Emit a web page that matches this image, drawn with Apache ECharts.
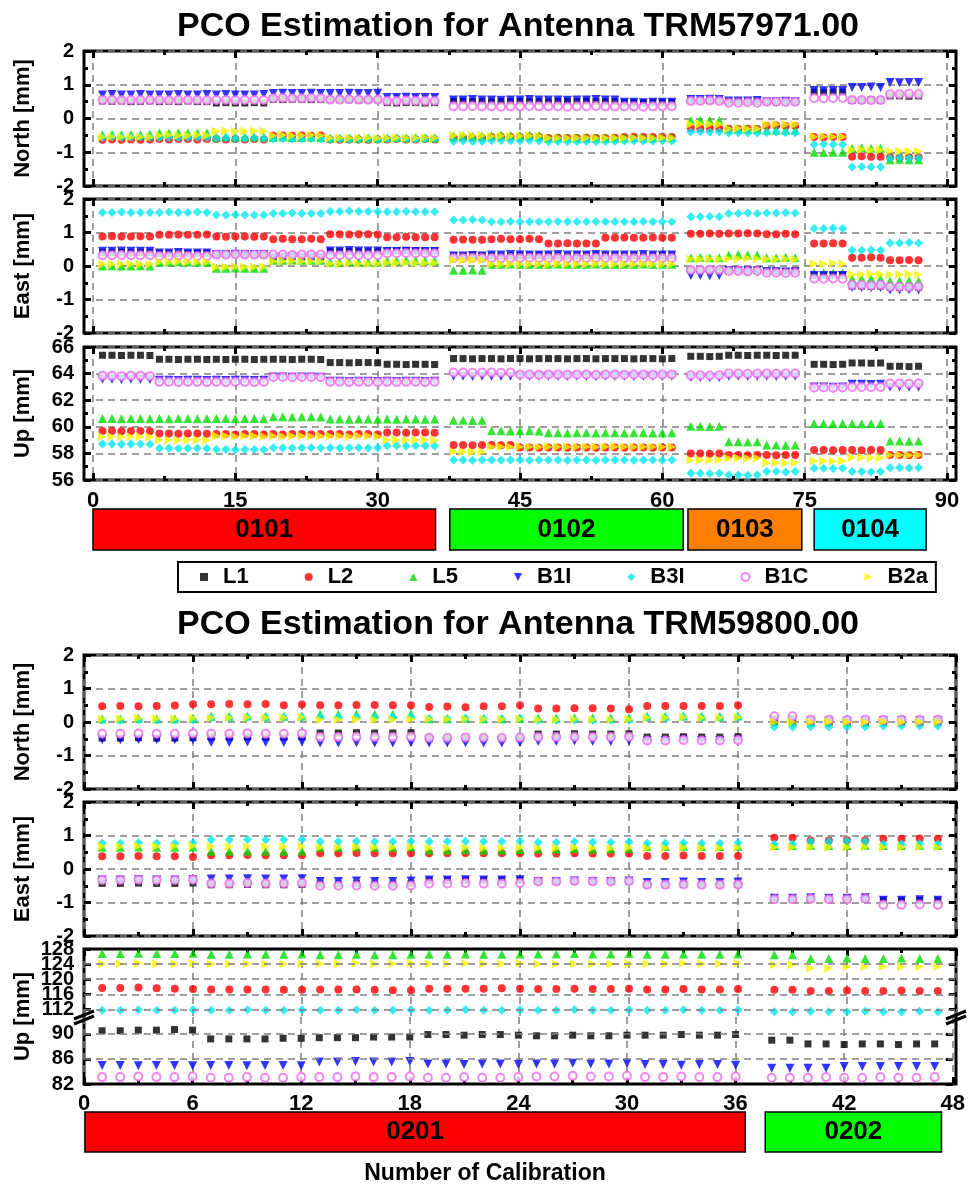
<!DOCTYPE html>
<html>
<head>
<meta charset="utf-8">
<script src="https://cdn.jsdelivr.net/npm/echarts@6/dist/echarts.min.js"></script>
<style>
  html, body { margin: 0; padding: 0; background: #fff; }
  #chart { width: 968px; height: 1200px; }
</style>
</head>
<body>
<div id="chart"></div>
<script>
// ---- series definitions ----
const seriesNames = ['L1', 'L2', 'L5', 'B1I', 'B3I', 'B1C', 'B2a'];

// ---- antenna TRM57971.00 (calibrations 0101..0104) ----
const calibTop = [1,2,3,4,5,6,7,8,9,10,11,12,13,14,15,16,17,18,19,20,21,22,23,24,25,26,27,28,29,30,31,32,33,34,35,36,
  38,39,40,41,42,43,44,45,46,47,48,49,50,51,52,53,54,55,56,57,58,59,60,61,
  63,64,65,66,67,68,69,70,71,72,73,74,
  76,77,78,79,80,81,82,83,84,85,86,87];

const northL1Top = [0.52,0.51,0.52,0.50,0.51,0.52, 0.50,0.51,0.50,0.52,0.50,0.50, 0.46,0.47,0.46,0.46,0.47,0.46, 0.57,0.56,0.57,0.57,0.56,0.57, 0.56,0.57,0.56,0.55,0.56,0.56, 0.47,0.46,0.47,0.47,0.46,0.47,
  0.50,0.51,0.50,0.50, 0.49,0.50,0.50,0.51,0.50,0.50, 0.49,0.50,0.50,0.50,0.51,0.50,0.50,0.50, 0.47,0.47,0.46,0.47,0.47,0.47,
  0.53,0.53,0.54,0.53, 0.50,0.50,0.51,0.50, 0.50,0.49,0.50,0.50,
  0.78,0.77,0.78,0.78, 0.54,0.54,0.55,0.54, 0.67,0.67,0.66,0.67];
const northL2Top = [-0.63,-0.62,-0.63,-0.62,-0.63,-0.62, -0.61,-0.62,-0.61,-0.61,-0.62,-0.61, -0.61,-0.62,-0.61,-0.62,-0.61,-0.62, -0.51,-0.50,-0.51,-0.50,-0.51,-0.50, -0.62,-0.63,-0.62,-0.62,-0.63,-0.62, -0.62,-0.61,-0.62,-0.62,-0.61,-0.62,
  -0.57,-0.56,-0.57,-0.57, -0.55,-0.54,-0.55,-0.55,-0.54,-0.55, -0.58,-0.57,-0.58,-0.58,-0.57,-0.58,-0.58,-0.57, -0.55,-0.54,-0.55,-0.55,-0.54,-0.55,
  -0.28,-0.29,-0.28,-0.29, -0.30,-0.31,-0.30,-0.31, -0.22,-0.21,-0.22,-0.22,
  -0.55,-0.56,-0.55,-0.55, -1.13,-1.12,-1.13,-1.13, -1.15,-1.16,-1.15,-1.15];
const northL5Top = [-0.48,-0.47,-0.48,-0.47,-0.48,-0.47, -0.42,-0.43,-0.42,-0.42,-0.43,-0.42, -0.55,-0.54,-0.55,-0.55,-0.54,-0.55, -0.56,-0.55,-0.56,-0.56,-0.55,-0.56, -0.58,-0.57,-0.58,-0.58,-0.57,-0.58, -0.57,-0.56,-0.57,-0.57,-0.56,-0.57,
  -0.52,-0.51,-0.52,-0.52, -0.50,-0.49,-0.50,-0.50,-0.49,-0.50, -0.58,-0.57,-0.58,-0.58,-0.57,-0.58,-0.58,-0.57, -0.57,-0.56,-0.57,-0.57,-0.56,-0.57,
  -0.06,-0.05,-0.06,-0.06, -0.32,-0.31,-0.32,-0.32, -0.35,-0.34,-0.35,-0.35,
  -1.00,-1.01,-1.00,-1.00, -0.88,-0.87,-0.88,-0.88, -1.22,-1.21,-1.22,-1.22];
const northB1ITop = [0.70,0.71,0.70,0.70,0.71,0.70, 0.70,0.70,0.71,0.70,0.70,0.71, 0.70,0.71,0.70,0.70,0.70,0.71, 0.74,0.75,0.74,0.74,0.75,0.74, 0.74,0.74,0.75,0.74,0.74,0.75, 0.62,0.62,0.63,0.62,0.62,0.62,
  0.55,0.55,0.56,0.55, 0.55,0.54,0.55,0.55,0.56,0.55, 0.55,0.55,0.54,0.55,0.55,0.56,0.55,0.55, 0.48,0.48,0.47,0.48,0.48,0.48,
  0.56,0.56,0.57,0.56, 0.52,0.52,0.52,0.53, 0.50,0.50,0.51,0.50,
  0.83,0.82,0.83,0.83, 0.92,0.92,0.93,0.92, 1.07,1.06,1.07,1.07];
const northB3ITop = [-0.56,-0.55,-0.56,-0.56,-0.55,-0.56, -0.57,-0.56,-0.57,-0.57,-0.56,-0.57, -0.59,-0.58,-0.59,-0.59,-0.58,-0.59, -0.61,-0.60,-0.61,-0.61,-0.60,-0.61, -0.62,-0.61,-0.62,-0.62,-0.61,-0.62, -0.61,-0.60,-0.61,-0.61,-0.60,-0.61,
  -0.68,-0.67,-0.68,-0.68, -0.66,-0.65,-0.66,-0.66,-0.65,-0.66, -0.69,-0.68,-0.69,-0.69,-0.68,-0.69,-0.69,-0.68, -0.67,-0.66,-0.67,-0.67,-0.66,-0.67,
  -0.40,-0.39,-0.40,-0.40, -0.43,-0.42,-0.43,-0.43, -0.42,-0.41,-0.42,-0.42,
  -0.77,-0.76,-0.77,-0.77, -1.44,-1.43,-1.44,-1.44, -1.17,-1.16,-1.17,-1.17];
const northB1CTop = [0.55,0.55,0.54,0.55,0.55,0.55, 0.55,0.54,0.55,0.55,0.55,0.54, 0.55,0.55,0.54,0.55,0.55,0.55, 0.60,0.61,0.60,0.60,0.61,0.60, 0.56,0.56,0.57,0.56,0.56,0.56, 0.52,0.52,0.53,0.52,0.52,0.52,
  0.36,0.36,0.37,0.36, 0.36,0.35,0.36,0.36,0.37,0.36, 0.36,0.36,0.35,0.36,0.36,0.37,0.36,0.36, 0.36,0.36,0.35,0.36,0.36,0.36,
  0.52,0.52,0.53,0.52, 0.47,0.47,0.48,0.47, 0.50,0.50,0.49,0.50,
  0.61,0.60,0.61,0.61, 0.55,0.55,0.54,0.55, 0.72,0.72,0.73,0.72];
const northB2aTop = [-0.55,-0.54,-0.55,-0.55,-0.54,-0.55, -0.50,-0.49,-0.50,-0.50,-0.49,-0.50, -0.38,-0.37,-0.38,-0.38,-0.37,-0.38, -0.50,-0.49,-0.50,-0.50,-0.49,-0.50, -0.58,-0.57,-0.58,-0.58,-0.57,-0.58, -0.58,-0.57,-0.58,-0.58,-0.57,-0.58,
  -0.50,-0.49,-0.50,-0.50, -0.52,-0.51,-0.52,-0.52,-0.51,-0.52, -0.58,-0.57,-0.58,-0.58,-0.57,-0.58,-0.58,-0.57, -0.58,-0.57,-0.58,-0.58,-0.57,-0.58,
  -0.17,-0.16,-0.17,-0.17, -0.30,-0.29,-0.30,-0.30, -0.18,-0.17,-0.18,-0.18,
  -0.54,-0.53,-0.54,-0.54, -0.93,-0.92,-0.93,-0.93, -0.97,-0.96,-0.97,-0.97];

const eastL1Top = [0.40,0.40,0.41,0.40,0.40,0.40, 0.37,0.37,0.36,0.37,0.37,0.37, 0.36,0.36,0.37,0.36,0.36,0.36, 0.27,0.27,0.28,0.27,0.27,0.27, 0.42,0.42,0.43,0.42,0.42,0.42, 0.45,0.45,0.46,0.45,0.45,0.45,
  0.30,0.30,0.31,0.30, 0.30,0.29,0.30,0.30,0.31,0.30, 0.30,0.30,0.29,0.30,0.30,0.31,0.30,0.30, 0.30,0.30,0.29,0.30,0.30,0.30,
  -0.12,-0.12,-0.11,-0.12, -0.12,-0.13,-0.12,-0.12, -0.15,-0.15,-0.16,-0.15,
  -0.28,-0.28,-0.27,-0.28, -0.60,-0.60,-0.61,-0.60, -0.64,-0.64,-0.63,-0.64];
const eastL2Top = [0.88,0.89,0.88,0.88,0.89,0.88, 0.93,0.93,0.94,0.93,0.93,0.94, 0.88,0.87,0.88,0.88,0.87,0.88, 0.80,0.81,0.80,0.80,0.81,0.80, 0.95,0.95,0.94,0.95,0.95,0.94, 0.86,0.86,0.87,0.86,0.86,0.86,
  0.78,0.79,0.78,0.78, 0.80,0.81,0.80,0.80,0.81,0.80, 0.67,0.67,0.68,0.67,0.67,0.67, 0.84,0.84,0.85,0.84,0.84,0.85,0.84,0.84,
  0.96,0.96,0.97,0.96, 0.97,0.97,0.98,0.97, 0.95,0.95,0.96,0.95,
  0.67,0.67,0.68,0.67, 0.25,0.25,0.26,0.25, 0.17,0.17,0.18,0.17];
const eastL5Top = [0.00,0.01,0.00,0.00,0.01,0.00, 0.12,0.12,0.13,0.12,0.12,0.12, -0.07,-0.07,-0.06,-0.07,-0.07,-0.07, 0.17,0.17,0.18,0.17,0.17,0.17, 0.12,0.12,0.13,0.12,0.12,0.12, 0.16,0.16,0.17,0.16,0.16,0.16,
  -0.13,-0.13,-0.12,-0.13, 0.05,0.05,0.06,0.05,0.05,0.05, 0.05,0.06,0.05,0.05,0.05,0.06,0.05,0.05, 0.05,0.05,0.06,0.05,0.05,0.05,
  0.25,0.26,0.25,0.25, 0.33,0.34,0.33,0.33, 0.25,0.25,0.26,0.25,
  -0.20,-0.20,-0.21,-0.20, -0.38,-0.38,-0.37,-0.38, -0.45,-0.45,-0.44,-0.45];
const eastB1ITop = [0.44,0.44,0.45,0.44,0.44,0.44, 0.39,0.39,0.40,0.39,0.39,0.39, 0.34,0.34,0.35,0.34,0.34,0.34, 0.27,0.27,0.28,0.27,0.27,0.27, 0.45,0.45,0.46,0.45,0.45,0.45, 0.43,0.43,0.44,0.43,0.43,0.43,
  0.30,0.30,0.31,0.30, 0.33,0.33,0.34,0.33,0.33,0.33, 0.33,0.34,0.33,0.33,0.33,0.34,0.33,0.33, 0.33,0.33,0.34,0.33,0.33,0.33,
  -0.28,-0.28,-0.29,-0.28, -0.14,-0.14,-0.15,-0.14, -0.17,-0.17,-0.18,-0.17,
  -0.28,-0.28,-0.29,-0.28, -0.64,-0.64,-0.65,-0.64, -0.72,-0.72,-0.71,-0.72];
const eastB3ITop = [1.60,1.60,1.61,1.60,1.60,1.60, 1.60,1.61,1.60,1.60,1.61,1.60, 1.52,1.52,1.53,1.52,1.52,1.52, 1.57,1.57,1.58,1.57,1.57,1.57, 1.63,1.63,1.64,1.63,1.63,1.63, 1.62,1.62,1.63,1.62,1.62,1.62,
  1.37,1.37,1.38,1.37, 1.32,1.32,1.33,1.32,1.32,1.32, 1.32,1.33,1.32,1.32,1.32,1.33,1.32,1.32, 1.32,1.32,1.33,1.32,1.32,1.32,
  1.47,1.47,1.48,1.47, 1.57,1.57,1.58,1.57, 1.58,1.58,1.59,1.58,
  1.12,1.12,1.13,1.12, 0.47,0.47,0.48,0.47, 0.69,0.69,0.70,0.69];
const eastB1CTop = [0.32,0.32,0.33,0.32,0.32,0.32, 0.30,0.30,0.31,0.30,0.30,0.30, 0.34,0.34,0.35,0.34,0.34,0.34, 0.34,0.34,0.33,0.34,0.34,0.34, 0.32,0.32,0.33,0.32,0.32,0.32, 0.38,0.38,0.39,0.38,0.38,0.38,
  0.24,0.24,0.25,0.24, 0.24,0.23,0.24,0.24,0.25,0.24, 0.24,0.24,0.23,0.24,0.24,0.25,0.24,0.24, 0.24,0.24,0.23,0.24,0.24,0.24,
  -0.12,-0.12,-0.11,-0.12, -0.15,-0.15,-0.16,-0.15, -0.20,-0.20,-0.21,-0.20,
  -0.38,-0.38,-0.37,-0.38, -0.57,-0.57,-0.58,-0.57, -0.62,-0.62,-0.63,-0.62];
const eastB2aTop = [0.05,0.05,0.06,0.05,0.05,0.05, 0.12,0.12,0.13,0.12,0.12,0.12, -0.03,-0.03,-0.02,-0.03,-0.03,-0.03, 0.14,0.14,0.15,0.14,0.14,0.14, 0.07,0.07,0.08,0.07,0.07,0.07, 0.09,0.09,0.10,0.09,0.09,0.09,
  0.17,0.17,0.18,0.17, 0.05,0.05,0.06,0.05,0.05,0.05, 0.05,0.06,0.05,0.05,0.05,0.06,0.05,0.05, 0.05,0.05,0.06,0.05,0.05,0.05,
  0.20,0.20,0.21,0.20, 0.22,0.22,0.23,0.22, 0.20,0.20,0.21,0.20,
  0.07,0.07,0.08,0.07, -0.25,-0.25,-0.24,-0.25, -0.25,-0.25,-0.24,-0.25];

const upL1Top = [65.38,65.38,65.36,65.38,65.38,65.36, 65.08,65.08,65.06,65.08,65.08,65.06, 65.08,65.06,65.08,65.08,65.06,65.08, 65.08,65.08,65.06,65.08,65.08,65.06, 64.83,64.83,64.81,64.83,64.83,64.81, 64.70,64.70,64.68,64.70,64.70,64.68,
  65.13,65.13,65.11,65.13, 65.13,65.11,65.13,65.13,65.11,65.13, 65.13,65.13,65.11,65.13,65.13,65.11,65.13,65.13, 65.13,65.11,65.13,65.13,65.11,65.13,
  65.30,65.30,65.28,65.30, 65.38,65.38,65.36,65.38, 65.38,65.36,65.38,65.38,
  64.70,64.70,64.68,64.70, 64.80,64.80,64.78,64.80, 64.55,64.55,64.53,64.55];
const upL2Top = [59.68,59.68,59.66,59.68,59.68,59.66, 59.50,59.50,59.48,59.50,59.50,59.48, 59.45,59.45,59.43,59.45,59.45,59.43, 59.45,59.43,59.45,59.45,59.43,59.45, 59.45,59.45,59.43,59.45,59.45,59.43, 59.58,59.58,59.56,59.58,59.58,59.56,
  58.63,58.63,58.61,58.63,58.63,58.61,58.63, 58.45,58.45,58.43,58.45,58.45,58.43,58.45,58.45,58.43,58.45,58.45,58.43,58.45,58.45,58.43,58.45,58.45,
  58.00,58.00,57.98,58.00, 57.88,57.88,57.86,57.88, 57.88,57.86,57.88,57.88,
  58.25,58.25,58.23,58.25, 58.25,58.23,58.25,58.25, 57.88,57.88,57.86,57.88];
const upL5Top = [60.63,60.63,60.61,60.63,60.63,60.61, 60.63,60.61,60.63,60.63,60.61,60.63, 60.63,60.63,60.61,60.63,60.63,60.61, 60.75,60.75,60.73,60.75,60.75,60.73, 60.58,60.58,60.56,60.58,60.58,60.56, 60.58,60.56,60.58,60.58,60.56,60.58,
  60.50,60.50,60.48,60.50, 59.70,59.70,59.68,59.70,59.70,59.68, 59.55,59.55,59.53,59.55,59.55,59.53,59.55,59.55,59.53,59.55,59.55,59.53,59.55,59.55,
  60.05,60.05,60.03,60.05, 58.88,58.88,58.86,58.88, 58.63,58.63,58.61,58.63,
  60.25,60.25,60.23,60.25, 60.25,60.23,60.25,60.25, 58.93,58.93,58.91,58.93];
const upB1ITop = [63.58,63.58,63.56,63.58,63.58,63.56, 63.50,63.50,63.48,63.50,63.50,63.48, 63.50,63.48,63.50,63.50,63.48,63.50, 63.75,63.75,63.73,63.75,63.75,63.73, 63.43,63.43,63.41,63.43,63.43,63.41, 63.43,63.41,63.43,63.43,63.41,63.43,
  63.80,63.80,63.78,63.80, 63.80,63.78,63.80,63.80,63.78,63.80, 63.80,63.80,63.78,63.80,63.80,63.78,63.80,63.80, 63.80,63.78,63.80,63.80,63.78,63.80,
  63.70,63.70,63.68,63.70, 63.80,63.80,63.78,63.80, 63.80,63.78,63.80,63.80,
  63.00,63.00,62.98,63.00, 63.20,63.20,63.18,63.20, 63.00,63.00,62.98,63.00];
const upB3ITop = [58.70,58.70,58.68,58.70,58.70,58.68, 58.38,58.38,58.36,58.38,58.38,58.36, 58.30,58.30,58.28,58.30,58.30,58.28, 58.43,58.43,58.41,58.43,58.43,58.41, 58.43,58.41,58.43,58.43,58.41,58.43, 58.58,58.58,58.56,58.58,58.58,58.56,
  57.50,57.50,57.48,57.50, 57.50,57.48,57.50,57.50,57.48,57.50, 57.50,57.50,57.48,57.50,57.50,57.48,57.50,57.50, 57.50,57.48,57.50,57.50,57.48,57.50,
  56.50,56.50,56.48,56.50, 56.38,56.38,56.36,56.38, 56.63,56.63,56.61,56.63,
  56.88,56.88,56.86,56.88, 56.63,56.63,56.61,56.63, 56.93,56.93,56.91,56.93];
const upB1CTop = [63.83,63.83,63.81,63.83,63.83,63.81, 63.38,63.38,63.36,63.38,63.38,63.36, 63.38,63.36,63.38,63.38,63.36,63.38, 63.75,63.75,63.73,63.75,63.75,63.73, 63.38,63.38,63.36,63.38,63.38,63.36, 63.38,63.36,63.38,63.38,63.36,63.38,
  64.08,64.08,64.06,64.08,64.08,64.06,64.08, 63.93,63.93,63.91,63.93,63.93,63.91,63.93,63.93,63.91,63.93,63.93,63.91,63.93,63.93,63.91,63.93,63.93,
  63.88,63.88,63.86,63.88, 64.00,64.00,63.98,64.00, 64.00,63.98,64.00,64.00,
  62.95,62.95,62.93,62.95, 63.00,63.00,62.98,63.00, 63.25,63.25,63.23,63.25];
const upB2aTop = [59.25,59.25,59.23,59.25,59.25,59.23, 59.00,59.00,58.98,59.00,59.00,58.98, 59.30,59.30,59.28,59.30,59.30,59.28, 59.30,59.28,59.30,59.30,59.28,59.30, 59.30,59.30,59.28,59.30,59.30,59.28, 59.00,59.00,58.98,59.00,59.00,58.98,
  58.13,58.13,58.11,58.13, 58.50,58.50,58.48,58.50,58.50,58.48, 58.50,58.50,58.48,58.50,58.50,58.48,58.50,58.50, 58.50,58.48,58.50,58.50,58.48,58.50,
  57.50,57.50,57.48,57.50, 57.63,57.63,57.61,57.63, 57.30,57.30,57.28,57.30,
  57.43,57.43,57.41,57.43, 57.70,57.70,57.68,57.70, 57.88,57.88,57.86,57.88];

const groupNamesTop = ['0101', '0102', '0103', '0104'];
const groupStartTop = [0, 37.6, 62.7, 76.0];
const groupEndTop = [36.1, 62.2, 74.7, 87.8];

// ---- antenna TRM59800.00 (calibrations 0201..0202) ----
const calibBottom = [1,2,3,4,5,6,7,8,9,10,11,12,13,14,15,16,17,18,19,20,21,22,23,24,25,26,27,28,29,30,31,32,33,34,35,36,
  38,39,40,41,42,43,44,45,46,47];

const northL1Bot = [-0.48,-0.48,-0.47,-0.48,-0.48,-0.47, -0.45,-0.45,-0.44,-0.45,-0.45,-0.44, -0.33,-0.33,-0.32,-0.33,-0.33,-0.32, -0.50,-0.50,-0.49,-0.50,-0.50,-0.49, -0.36,-0.36,-0.35,-0.36,-0.36,-0.35, -0.45,-0.45,-0.44,-0.45,-0.45,-0.44,
  0.10,0.10, 0.00,0.01,0.00,0.00,0.01,0.00,0.00,0.01];
const northL2Bot = [0.47,0.48,0.47,0.48,0.49,0.53, 0.53,0.54,0.53,0.54,0.50,0.52, 0.50,0.50,0.51,0.51,0.50,0.50, 0.45,0.46,0.44,0.47,0.47,0.50, 0.40,0.40,0.41,0.41,0.40,0.38, 0.48,0.48,0.48,0.48,0.48,0.50,
  -0.01,-0.01,-0.02,-0.02,-0.01,-0.02,-0.01,-0.01,-0.02,-0.01];
const northL5Bot = [0.10,0.10,0.11,0.10,0.10,0.11, 0.17,0.17,0.18,0.17,0.17,0.18, 0.23,0.23,0.24,0.23,0.23,0.24, 0.10,0.10,0.11,0.10,0.10,0.11, 0.12,0.12,0.13,0.12,0.12,0.13, 0.17,0.17,0.18,0.17,0.17,0.18,
  0.02,0.02, 0.00,0.00,0.01,0.00, 0.07,0.07,0.08,0.07];
const northB1IBot = [-0.53,-0.53,-0.52,-0.53,-0.53,-0.52, -0.61,-0.61,-0.60,-0.61,-0.61,-0.60, -0.63,-0.63,-0.62,-0.63,-0.63,-0.62, -0.63,-0.63,-0.62,-0.63,-0.63,-0.62, -0.58,-0.58,-0.57,-0.58,-0.58,-0.57, -0.55,-0.55,-0.54,-0.55,-0.55,-0.54,
  0.02,0.02,0.02,0.02,0.02,0.02,0.04,0.04,0.04,0.04];
const northB3IBot = [0.05,0.05,0.06,0.05,0.05,0.06, 0.13,0.13,0.14,0.13,0.13,0.14, 0.15,0.15,0.16,0.15,0.15,0.16, 0.10,0.10,0.11,0.10,0.10,0.11, 0.05,0.05,0.06,0.05,0.05,0.06, 0.13,0.13,0.14,0.13,0.13,0.14,
  -0.15,-0.15,-0.14,-0.15,-0.15,-0.14,-0.12,-0.12,-0.12,-0.12];
const northB1CBot = [-0.35,-0.35,-0.34,-0.35,-0.35,-0.34, -0.35,-0.35,-0.34,-0.35,-0.35,-0.34, -0.45,-0.45,-0.44,-0.45,-0.45,-0.44, -0.47,-0.47,-0.46,-0.47,-0.47,-0.46, -0.45,-0.45,-0.44,-0.45,-0.45,-0.44, -0.55,-0.55,-0.54,-0.55,-0.55,-0.54,
  0.17,0.17, 0.07,0.07,0.06,0.07,0.07,0.07,0.06,0.07];
const northB2aBot = [0.10,0.10,0.11,0.10,0.10,0.11, 0.13,0.13,0.14,0.13,0.13,0.14, 0.07,0.07,0.08,0.07,0.07,0.08, 0.08,0.08,0.09,0.08,0.08,0.09, 0.07,0.07,0.08,0.07,0.07,0.08, 0.13,0.13,0.14,0.13,0.13,0.14,
  0.00,0.00,0.00,0.01,0.00,0.00,0.01,0.00,0.00,0.01];

const eastL1Bot = [-0.43,-0.43,-0.42,-0.43,-0.43,-0.42, -0.47,-0.47,-0.46,-0.47,-0.47,-0.46, -0.45,-0.45,-0.44,-0.45,-0.45,-0.44, -0.35,-0.35,-0.34,-0.35,-0.35,-0.34, -0.37,-0.37,-0.36,-0.37,-0.37,-0.36, -0.47,-0.47,-0.46,-0.47,-0.47,-0.46,
  -0.90,-0.90,-0.89,-0.90,-0.90,-0.89, -0.95,-0.95,-0.94,-0.95];
const eastL2Bot = [0.38,0.38,0.39,0.38,0.38,0.36, 0.41,0.41,0.42,0.41,0.41,0.41, 0.47,0.47,0.48,0.47,0.47,0.47, 0.47,0.47,0.48,0.47,0.47,0.47, 0.46,0.46,0.47,0.46,0.46,0.46, 0.39,0.39,0.40,0.39,0.39,0.39,
  0.93,0.93, 0.85,0.85,0.86,0.85, 0.90,0.90,0.91,0.90];
const eastL5Bot = [0.65,0.65,0.66,0.65,0.65,0.66, 0.53,0.53,0.54,0.53,0.53,0.54, 0.65,0.65,0.66,0.65,0.65,0.66, 0.57,0.57,0.58,0.57,0.57,0.58, 0.60,0.60,0.61,0.60,0.60,0.61, 0.67,0.67,0.68,0.67,0.67,0.68,
  0.70,0.70,0.71,0.70,0.70,0.71,0.70,0.70,0.71,0.70];
const eastB1IBot = [-0.33,-0.33,-0.32,-0.33,-0.33,-0.32, -0.30,-0.30,-0.29,-0.30,-0.30,-0.29, -0.37,-0.37,-0.36,-0.37,-0.37,-0.36, -0.33,-0.33,-0.32,-0.33,-0.33,-0.32, -0.37,-0.37,-0.36,-0.37,-0.37,-0.36, -0.40,-0.40,-0.39,-0.40,-0.40,-0.39,
  -0.87,-0.87,-0.86,-0.87,-0.87,-0.86, -0.93,-0.93,-0.92,-0.93];
const eastB3IBot = [0.77,0.77,0.78,0.77,0.77,0.78, 0.87,0.87,0.88,0.87,0.87,0.88, 0.82,0.82,0.83,0.82,0.82,0.83, 0.82,0.82,0.83,0.82,0.82,0.83, 0.80,0.80,0.81,0.80,0.80,0.81, 0.77,0.77,0.78,0.77,0.77,0.78,
  0.75,0.75, 0.83,0.83,0.84,0.83, 0.75,0.75,0.76,0.75];
const eastB1CBot = [-0.33,-0.33,-0.32,-0.33,-0.33,-0.32, -0.43,-0.43,-0.42,-0.43,-0.43,-0.42, -0.50,-0.50,-0.49,-0.50,-0.50,-0.49, -0.43,-0.43,-0.42,-0.43,-0.43,-0.42, -0.37,-0.37,-0.36,-0.37,-0.37,-0.36, -0.47,-0.47,-0.46,-0.47,-0.47,-0.46,
  -0.90,-0.90,-0.89,-0.90,-0.90,-0.89, -1.07,-1.07,-1.06,-1.07];
const eastB2aBot = [0.68,0.68,0.69,0.68,0.68,0.69, 0.67,0.67,0.68,0.67,0.67,0.68, 0.65,0.65,0.66,0.65,0.65,0.66, 0.63,0.63,0.64,0.63,0.63,0.64, 0.63,0.63,0.64,0.63,0.63,0.64, 0.63,0.63,0.64,0.63,0.63,0.64,
  0.65,0.65,0.66,0.65,0.65,0.66,0.65,0.65,0.66,0.65];

const upL1Bot = [90.5,90.5,90.6,90.6,90.7,90.6, 89.2,89.2,89.2,89.2,89.3,89.3, 89.4,89.4,89.4,89.5,89.5,89.5, 89.9,89.9,89.8,89.9,89.9,89.8, 89.7,89.7,89.8,89.7,89.7,89.8, 89.8,89.8,89.9,89.8,89.8,89.9,
  89.0,89.0, 88.4,88.4,88.3,88.4,88.4,88.3,88.4,88.4];
const upL2Bot = [117.7,117.7,117.8,117.6,117.5,117.4, 117.3,117.3,117.3,117.3,117.2,117.2, 117.3,117.3,117.3,117.2,117.1,117.1, 117.5,117.5,117.5,117.5,117.6,117.5, 117.4,117.4,117.5,117.4,117.4,117.5, 117.3,117.3,117.4,117.3,117.3,117.4,
  117.2,117.2, 116.9,116.9,117.0,116.9,116.9,117.0,116.9,116.9];
const upL5Bot = [126.8,126.8,126.9,126.8,126.8,126.9, 126.6,126.6,126.7,126.6,126.6,126.7, 126.5,126.5,126.6,126.5,126.5,126.6, 126.6,126.6,126.7,126.6,126.6,126.7, 126.7,126.7,126.8,126.7,126.7,126.8, 126.6,126.6,126.7,126.6,126.6,126.7,
  126.5,126.5, 125.5,125.5,125.6,125.5,125.5,125.6,125.5,125.5];
const upB1IBot = [84.95,84.95,84.9,84.95,84.95,84.9, 84.95,84.95,84.9,84.95,84.95,84.9, 85.5,85.5,85.6,85.5,85.5,85.6, 85.2,85.2,85.1,85.2,85.2,85.1, 85.2,85.2,85.3,85.2,85.2,85.3, 85.1,85.1,85.0,85.1,85.1,85.0,
  84.5,84.5,84.5,84.5, 84.8,84.8,84.8,84.8,84.8,84.8];
const upB3IBot = [111.8,111.8,111.9,111.8,111.8,111.9, 111.8,111.8,111.9,111.8,111.8,111.9, 111.8,111.8,111.9,111.8,111.8,111.9, 111.8,111.8,111.9,111.8,111.8,111.9, 111.8,111.8,111.9,111.8,111.8,111.9, 111.8,111.8,111.9,111.8,111.8,111.9,
  111.4,111.4,111.5,111.4,111.4,111.5,111.4,111.4,111.5,111.4];
const upB1CBot = [83.1,83.1,83.2,83.1,83.1,83.2, 83.0,83.0,83.1,83.0,83.0,83.1, 83.1,83.1,83.2,83.1,83.1,83.2, 83.0,83.0,83.1,83.0,83.0,83.1, 83.2,83.2,83.3,83.2,83.2,83.3, 83.1,83.1,83.2,83.1,83.1,83.2,
  83.0,83.0,83.0,83.1,83.0,83.0,83.1,83.0,83.0,83.1];
const upB2aBot = [124.1,124.1,124.2,124.1,124.1,124.2, 124.0,124.0,124.1,124.0,124.0,124.1, 124.1,124.1,124.2,124.1,124.1,124.2, 124.1,124.1,124.2,124.1,124.1,124.2, 124.0,124.0,124.1,124.0,124.0,124.1, 124.1,124.1,124.2,124.1,124.1,124.2,
  123.8,123.8, 122.9,122.9, 123.3,123.3,123.4,123.3,123.3,123.4];

const upUpperTicks = [112, 116, 120, 124, 128];
const upLowerTicks = [82, 86, 90];

const groupNamesBot = ['0201', '0202'];
const groupStartBot = [0.05, 37.5];
const groupEndBot = [36.4, 47.2];

// ---- styles ----
const FONT = '"Liberation Sans", Arial, sans-serif';
const TRI_DOWN = 'path://M0,0L10,0L5,10Z';
const TRI_RIGHT = 'path://M0,0L10,5L0,10Z';
const colors = ['#000000', '#ff0000', '#00dd00', '#0000ff', '#00e8f0', '#ee66ee', '#f4f400'];
const symbols = ['rect', 'circle', 'triangle', TRI_DOWN, 'diamond', 'emptyCircle', TRI_RIGHT];
const sizes = [7, 8, 9, 9, 9, 8, 9];
const groupColorsTop = ['#ff0000', '#00ff00', '#ff8000', '#00ffff'];
const groupColorsBot = ['#ff0000', '#00ff00'];

const grid = [], xAxis = [], yAxis = [], series = [];
const noShow = { show: false };
const noLine = { show: false, onZero: false };
const dashed = { show: true, lineStyle: { color: '#808080', width: 1.5, type: [7, 5] } };
function tick(len) { return { show: true, inside: true, length: len, lineStyle: { color: '#000', width: 3 } }; }
function minor(len) { return { show: true, splitNumber: 2, length: len, lineStyle: { color: '#000', width: 3 } }; }
const yLabel = { show: true, margin: 10, color: '#000', fontFamily: FONT, fontWeight: 'bold', fontSize: 20 };
const xLabel = { show: true, color: '#000', fontFamily: FONT, fontWeight: 'bold', fontSize: 22 };
const nameStyle = { color: '#000', fontFamily: FONT, fontWeight: 'bold', fontSize: 22 };

function addGrid(g) { grid.push(g); return grid.length - 1; }
function addX(o) {
  xAxis.push(Object.assign({ type: 'value', axisLine: noLine, splitLine: noShow, axisLabel: noShow, axisTick: noShow }, o));
  return xAxis.length - 1;
}
function addY(o) {
  yAxis.push(Object.assign({ type: 'value', axisLine: noLine, splitLine: noShow, axisLabel: noShow, axisTick: noShow }, o));
  return yAxis.length - 1;
}
function addScatter(k, xs, ys, xi, yi) {
  const s = {
    name: seriesNames[k], type: 'scatter', xAxisIndex: xi, yAxisIndex: yi,
    symbol: symbols[k], symbolSize: sizes[k],
    itemStyle: k === 5 ? { color: colors[k], borderWidth: 1.3 } : { color: colors[k] },
    data: xs.map((x, i) => [x, ys[i]]),
    clip: false
  };
  series.push(s);
  return s;
}

function topPanel(top, height, yMin, yMax, yStep, name, values, withLabels) {
  const fg = addGrid({ left: 84, right: 12, top: top, height: height, show: true, borderColor: '#000', borderWidth: 3 });
  addX({ gridIndex: fg, min: 0, max: 1, show: false });
  addY({ gridIndex: fg, min: yMin, max: yMax, interval: yStep, position: 'left',
    name: name, nameLocation: 'middle', nameGap: 50, nameTextStyle: nameStyle,
    axisTick: tick(7), minorTick: minor(4), splitLine: dashed, axisLabel: yLabel });
  addY({ gridIndex: fg, min: yMin, max: yMax, interval: yStep, position: 'right', axisTick: tick(7), minorTick: minor(4) });
  const dg = addGrid({ left: 93, right: 21, top: top, height: height });
  const xb = addX({ gridIndex: dg, min: 0, max: 90, interval: 15, position: 'bottom',
    axisTick: tick(7), minorTick: minor(4), splitLine: dashed,
    axisLabel: withLabels ? Object.assign({ margin: 10 }, xLabel) : noShow });
  addX({ gridIndex: dg, min: 0, max: 90, interval: 15, position: 'top', axisTick: tick(7), minorTick: minor(4) });
  const yd = addY({ gridIndex: dg, min: yMin, max: yMax, show: false });
  values.forEach((v, k) => addScatter(k, calibTop, v, xb, yd));
}

function bottomPanel(top, height, name, values) {
  const g = addGrid({ left: 84, right: 12, top: top, height: height, show: true, borderColor: '#000', borderWidth: 3 });
  const xb = addX({ gridIndex: g, min: 0, max: 48, interval: 6, position: 'bottom', axisTick: tick(7), minorTick: minor(4), splitLine: dashed });
  addX({ gridIndex: g, min: 0, max: 48, interval: 6, position: 'top', axisTick: tick(7), minorTick: minor(4) });
  const yl = addY({ gridIndex: g, min: -2, max: 2, interval: 1, position: 'left',
    name: name, nameLocation: 'middle', nameGap: 50, nameTextStyle: nameStyle,
    axisTick: tick(7), minorTick: minor(4), splitLine: dashed, axisLabel: yLabel });
  addY({ gridIndex: g, min: -2, max: 2, interval: 1, position: 'right', axisTick: tick(7), minorTick: minor(4) });
  values.forEach((v, k) => addScatter(k, calibBottom, v, xb, yl));
}

function boxRow(left, right, top, height, xMax, names, starts, ends, fills) {
  const g = addGrid({ left: left, right: right, top: top, height: height });
  const xi = addX({ gridIndex: g, min: 0, max: xMax, show: false });
  const yi = addY({ gridIndex: g, min: 0, max: 1, show: false });
  series.push({
    type: 'custom', xAxisIndex: xi, yAxisIndex: yi, silent: true, clip: false,
    data: starts.map((s, i) => [s, ends[i], i]),
    renderItem: function (params, api) {
      const i = api.value(2);
      const p0 = api.coord([api.value(0), 1]);
      const p1 = api.coord([api.value(1), 0]);
      return {
        type: 'group',
        children: [
          { type: 'rect', shape: { x: p0[0], y: p0[1], width: p1[0] - p0[0], height: p1[1] - p0[1] },
            style: { fill: fills[i], stroke: '#000', lineWidth: 1.5 } },
          { type: 'text', x: (p0[0] + p1[0]) / 2, y: (p0[1] + p1[1]) / 2,
            style: { text: names[i], align: 'center', verticalAlign: 'middle', fill: '#000',
              fontFamily: FONT, fontWeight: 'bold', fontSize: 26 } }
        ]
      };
    }
  });
}

// ---- top figure ----
topPanel(51, 135, -2, 2, 1, 'North [mm]',
  [northL1Top, northL2Top, northL5Top, northB1ITop, northB3ITop, northB1CTop, northB2aTop], false);
topPanel(199, 134, -2, 2, 1, 'East [mm]',
  [eastL1Top, eastL2Top, eastL5Top, eastB1ITop, eastB3ITop, eastB1CTop, eastB2aTop], false);
topPanel(347, 133, 56, 66, 2, 'Up [mm]',
  [upL1Top, upL2Top, upL5Top, upB1ITop, upB3ITop, upB1CTop, upB2aTop], true);
boxRow(93, 21, 509, 41, 90, groupNamesTop, groupStartTop, groupEndTop, groupColorsTop);

// ---- bottom figure ----
bottomPanel(655, 134, 'North [mm]',
  [northL1Bot, northL2Bot, northL5Bot, northB1IBot, northB3IBot, northB1CBot, northB2aBot]);
bottomPanel(802, 134, 'East [mm]',
  [eastL1Bot, eastL2Bot, eastL5Bot, eastB1IBot, eastB3IBot, eastB1CBot, eastB2aBot]);

// broken Up axis: frame + upper part + lower part
const fu = addGrid({ left: 84, right: 12, top: 949, height: 135, show: true, borderColor: '#000', borderWidth: 3 });
addX({ gridIndex: fu, min: 0, max: 1, show: false });
addY({ gridIndex: fu, min: 0, max: 1, position: 'left', name: 'Up [mm]', nameLocation: 'middle', nameGap: 50, nameTextStyle: nameStyle });

const gu = addGrid({ left: 84, right: 12, top: 949, height: 68 });
const xu = addX({ gridIndex: gu, min: 0, max: 48, interval: 6, position: 'top', axisTick: tick(7), minorTick: minor(4), splitLine: dashed });
// labels split over two axes so the crowded ticks are all drawn
const upTicksA = upUpperTicks.filter((v, i) => i % 2 === 0);
const upTicksB = upUpperTicks.filter((v, i) => i % 2 === 1);
const yu = addY({ gridIndex: gu, min: 110, max: 128, position: 'left',
  axisTick: Object.assign(tick(7), { customValues: upTicksA }),
  axisLabel: Object.assign({ customValues: upTicksA }, yLabel) });
addY({ gridIndex: gu, min: 110, max: 128, position: 'left',
  axisTick: Object.assign(tick(7), { customValues: upTicksB }),
  axisLabel: Object.assign({ customValues: upTicksB }, yLabel) });
addY({ gridIndex: gu, min: 110, max: 128, position: 'right', axisTick: Object.assign(tick(7), { customValues: upUpperTicks }) });

const gl = addGrid({ left: 84, right: 12, top: 1017, height: 67 });
const xl = addX({ gridIndex: gl, min: 0, max: 48, interval: 6, position: 'bottom', axisTick: tick(7), minorTick: minor(4), splitLine: dashed,
  axisLabel: Object.assign({ margin: 9 }, xLabel) });
const yl = addY({ gridIndex: gl, min: 82, max: 92.7, position: 'left',
  axisTick: Object.assign(tick(7), { customValues: upLowerTicks }),
  axisLabel: Object.assign({ customValues: upLowerTicks }, yLabel) });
addY({ gridIndex: gl, min: 82, max: 92.7, position: 'right', axisTick: Object.assign(tick(7), { customValues: upLowerTicks }) });

const gridMark = (vals) => ({
  silent: true, symbol: 'none', label: { show: false },
  lineStyle: { color: '#808080', width: 1.5, type: [7, 5] },
  data: vals.map(v => ({ yAxis: v }))
});
addScatter(0, calibBottom, upL1Bot, xl, yl).markLine = gridMark(upLowerTicks.filter(v => v > 82));
addScatter(1, calibBottom, upL2Bot, xu, yu).markLine = gridMark(upUpperTicks.filter(v => v < 128));
addScatter(2, calibBottom, upL5Bot, xu, yu);
addScatter(3, calibBottom, upB1IBot, xl, yl);
addScatter(4, calibBottom, upB3IBot, xu, yu);
addScatter(5, calibBottom, upB1CBot, xl, yl);
addScatter(6, calibBottom, upB2aBot, xu, yu);

boxRow(84, 12, 1112, 40, 48, groupNamesBot, groupStartBot, groupEndBot, groupColorsBot);

const chart = echarts.init(document.getElementById('chart'));
chart.setOption({
  animation: false,
  backgroundColor: '#fff',
  grid: grid,
  xAxis: xAxis,
  yAxis: yAxis,
  legend: {
    data: seriesNames.map((n, k) => ({ name: n, icon: symbols[k] })),
    left: 178, top: 562,
    padding: [4, 8, 4, 22], itemGap: 56, itemWidth: 8, itemHeight: 8,
    borderColor: '#000', borderWidth: 2,
    textStyle: { color: '#000', fontFamily: FONT, fontWeight: 'bold', fontSize: 22, padding: [0, 0, 0, 10] }
  },
  graphic: [
    { type: 'text', x: 518, y: 27, z: 100,
      style: { text: 'PCO Estimation for Antenna TRM57971.00', align: 'center', verticalAlign: 'middle',
        fill: '#000', fontFamily: FONT, fontWeight: 'bold', fontSize: 34 } },
    { type: 'text', x: 518, y: 625, z: 100,
      style: { text: 'PCO Estimation for Antenna TRM59800.00', align: 'center', verticalAlign: 'middle',
        fill: '#000', fontFamily: FONT, fontWeight: 'bold', fontSize: 34 } },
    { type: 'text', x: 485, y: 1174, z: 100,
      style: { text: 'Number of Calibration', align: 'center', verticalAlign: 'middle',
        fill: '#000', fontFamily: FONT, fontWeight: 'bold', fontSize: 23 } },
    // axis break marks
    { type: 'line', z: 100, shape: { x1: 74, y1: 1019, x2: 94, y2: 1011 }, style: { stroke: '#000', lineWidth: 3 } },
    { type: 'line', z: 100, shape: { x1: 74, y1: 1024, x2: 94, y2: 1016 }, style: { stroke: '#000', lineWidth: 3 } },
    { type: 'line', z: 100, shape: { x1: 946, y1: 1019, x2: 966, y2: 1011 }, style: { stroke: '#000', lineWidth: 3 } },
    { type: 'line', z: 100, shape: { x1: 946, y1: 1024, x2: 966, y2: 1016 }, style: { stroke: '#000', lineWidth: 3 } }
  ],
  series: series
});
</script>
</body>
</html>
